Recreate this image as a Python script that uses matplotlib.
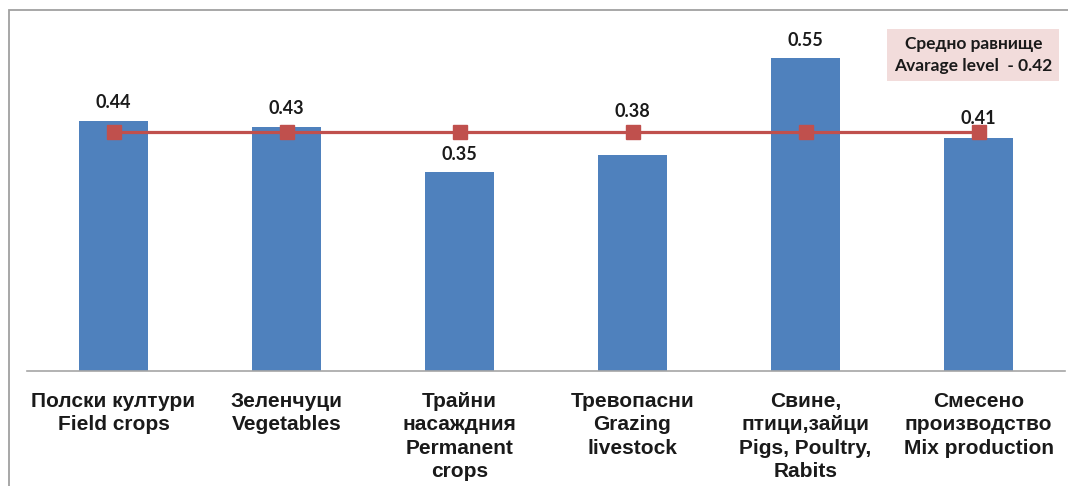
import matplotlib.pyplot as plt
from matplotlib.patches import Rectangle

# dane
kategorie = [
    "Полски култури\nField crops",
    "Зеленчуци\nVegetables",
    "Трайни\nнасаждния\nPermanent\ncrops",
    "Тревопасни\nGrazing\nlivestock",
    "Свине,\nптици,зайци\nPigs, Poultry,\nRabits",
    "Смесено\nпроизводство\nMix production",
]
wartosci = [0.44, 0.43, 0.35, 0.38, 0.55, 0.41]
srednia = [0.42, 0.42, 0.42, 0.42, 0.42, 0.42]
napis_sredniej = "Средно равнище\nAvarage level  - 0.42"

# przesunięcia etykiet nad słupkami (w punktach), jak w oryginale
przesuniecia = [13, 13, 13, 31, 13, 14]

niebieski = "#4F81BD"
czerwony = "#C0504D"

fig = plt.figure(figsize=(10.68, 4.86), dpi=100)
ax = fig.add_axes([27 / 1068, 115 / 486, 1038 / 1068, 341 / 486])

x = list(range(len(kategorie)))
ax.bar(x, wartosci, width=0.4, color=niebieski, zorder=2)
ax.plot(x, srednia, color=czerwony, lw=2.3, marker="s", markersize=9.5, zorder=3)

for xi, v, dy in zip(x, wartosci, przesuniecia):
    ax.annotate(f"{v:.2f}", (xi, v), xytext=(0, dy), textcoords="offset points",
                ha="center", va="center", fontsize=13, fontweight="bold",
                family=["Lato", "DejaVu Sans"], color="#1a1a1a", zorder=4)

ax.set_xlim(-0.5, len(kategorie) - 0.5)
ax.set_ylim(0, 0.6)
ax.set_yticks([])
ax.set_xticks(x)
ax.set_xticklabels(kategorie, fontsize=15, fontweight="bold",
                   family="Liberation Sans", color="#1a1a1a", linespacing=1.3)
ax.tick_params(axis="x", length=0, pad=15)
for s in ["top", "right", "left"]:
    ax.spines[s].set_visible(False)
ax.spines["bottom"].set_color("#A6A6A6")
ax.spines["bottom"].set_linewidth(1.2)

# pole z opisem średniej
ax.text(4.97, 0.556, napis_sredniej, ha="center", va="center", fontsize=12.5,
        fontweight="bold", family=["Lato", "Noto Sans"], color="#1a1a1a",
        linespacing=1.45,
        bbox=dict(boxstyle="square,pad=0.4", fc="#F2DCDB", ec="none"), zorder=5)

# ramka wykresu
ramka = Rectangle((9 / 1068, -0.2), 1.1, 1.2 - 10 / 486,
                  transform=fig.transFigure, fill=False, ec="#A0A0A0", lw=1.3,
                  clip_on=False)
fig.add_artist(ramka)

fig.savefig("out.png", dpi=100)
